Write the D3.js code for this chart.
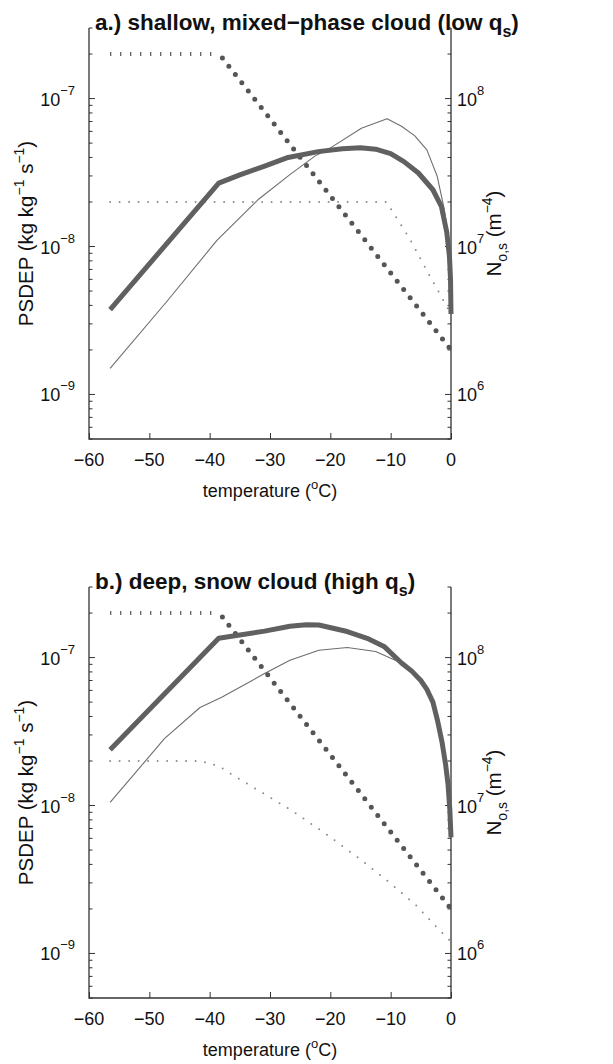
<!DOCTYPE html>
<html>
<head>
<meta charset="utf-8">
<script src="https://cdn.jsdelivr.net/npm/d3@7"></script>
<style>
html,body{margin:0;padding:0;background:#fff;}
svg text{font-family:"Liberation Sans",Arial,Helvetica,sans-serif;fill:#111;}
</style>
</head>
<body>
<svg id="chart" width="613" height="1064"></svg>
<script>
// ---------- data ----------
const tempTicks = [-60, -50, -40, -30, -20, -10, 0];
const psdepTicks = [1e-9, 1e-8, 1e-7];
const psdepTickExp = ["−9", "−8", "−7"];
const nosTicks = [1e6, 1e7, 1e8];
const nosTickExp = ["6", "7", "8"];
const psdepDomain = [5e-10, 3e-7];
const nosDomain = [5e5, 3e8];

// panel a: shallow, mixed-phase cloud
const thickA = [[-56.5,3.75e-9],[-38.5,2.68e-8],[-35,3.05e-8],[-31,3.48e-8],[-27,4.0e-8],[-22,4.38e-8],[-18,4.58e-8],[-15,4.65e-8],[-12.5,4.55e-8],[-10,4.25e-8],[-7.8,3.75e-8],[-5.4,3.14e-8],[-3,2.42e-8],[-1.6,1.87e-8],[-0.7,1.25e-8],[-0.25,8.5e-9],[-0.08,6e-9],[0,3.5e-9]];
const thinA = [[-56.5,1.5e-9],[-47,4.3e-9],[-38.8,1.1e-8],[-32,2.07e-8],[-26.7,3.06e-8],[-22.5,4.1e-8],[-20.5,4.5e-8],[-14.85,6.3e-8],[-10.6,7.3e-8],[-8.2,6.5e-8],[-6,5.6e-8],[-4,4.5e-8],[-2.3,3.0e-8],[-1.13,1.8e-8],[-0.28,1.05e-8],[-0.05,6e-9],[0,3.6e-9]];
const bigDotsA = [[-56.5,2e8],[-38.4,2e8],[0,2e6]];
const smallDotsA = [[-56.5,2e7],[-10.7,2e7],[-6.9,1.14e7],[-3.5,6.3e6],[0,3.5e6]];

// panel b: deep, snow cloud
const thickB = [[-56.5,2.38e-8],[-38.5,1.35e-7],[-30.9,1.51e-7],[-26.7,1.63e-7],[-24,1.67e-7],[-21.9,1.66e-7],[-17.2,1.5e-7],[-13.9,1.35e-7],[-11.1,1.19e-7],[-8.2,9.2e-8],[-6.5,8.1e-8],[-5,7.0e-8],[-4,6.1e-8],[-3,5.0e-8],[-2.2,3.7e-8],[-1.5,2.7e-8],[-0.9,1.9e-8],[-0.5,1.4e-8],[-0.2,9.5e-9],[0,6.1e-9]];
const thinB = [[-56.5,1.05e-8],[-47.5,2.83e-8],[-41.6,4.6e-8],[-38,5.4e-8],[-30.9,7.8e-8],[-26.7,9.6e-8],[-21.9,1.12e-7],[-17.2,1.17e-7],[-12.5,1.1e-7],[-8.2,9.2e-8],[-6.5,8.1e-8],[-5,7.0e-8],[-4,6.1e-8],[-3,5.0e-8],[-2.2,3.7e-8],[-1.5,2.7e-8],[-0.9,1.9e-8],[-0.5,1.4e-8],[-0.2,9.5e-9],[0,6.1e-9]];
const bigDotsB = [[-56.5,2e8],[-38.4,2e8],[0,2e6]];
const smallDotsB = [[-56.5,2e7],[-41.6,2e7],[-38.5,1.85e7],[-36.1,1.6e7],[-31,1.2e7],[-26.4,9.25e6],[-20.8,6.45e6],[-15.1,4.35e6],[-9.9,2.95e6],[-5.7,2.1e6],[-2.7,1.55e6],[0,1.2e6]];

// ---------- drawing ----------
const svg = d3.select("#chart");
const X0 = 89, X1 = 451;
const x = d3.scaleLinear().domain([-60, 0]).range([X0, X1]);
const axisColor = "#333";

function addSup(text, base, sup, supSize, rise) {
  text.append("tspan").text(base);
  text.append("tspan").attr("dy", -rise).attr("font-size", supSize).text(sup);
}

function drawPanel(top, bottom, titleMain, titleEnd, thick, thin, bigDots, smallDots) {
  const g = svg.append("g");
  const yL = d3.scaleLog().domain(psdepDomain).range([bottom, top]);
  const yR = d3.scaleLog().domain(nosDomain).range([bottom, top]);

  // y ticks (inward, with minor ticks)
  const minorL = yL.ticks();
  g.append("g").selectAll("line").data(minorL).join("line")
    .attr("x1", X0).attr("x2", d => X0 + (psdepTicks.includes(d) ? 6 : 3.5))
    .attr("y1", d => yL(d)).attr("y2", d => yL(d))
    .attr("stroke", axisColor).attr("stroke-width", 1);
  const minorR = yR.ticks();
  g.append("g").selectAll("line").data(minorR).join("line")
    .attr("x1", X1).attr("x2", d => X1 - (nosTicks.includes(d) ? 6 : 3.5))
    .attr("y1", d => yR(d)).attr("y2", d => yR(d))
    .attr("stroke", axisColor).attr("stroke-width", 1);

  const bottomAxis = d3.axisBottom(x).tickValues(tempTicks).tickFormat("").tickSizeInner(-6).tickSizeOuter(0);
  const gb = g.append("g").attr("transform", `translate(0,${bottom})`).call(bottomAxis);
  gb.select(".domain").remove();
  gb.selectAll(".tick line").attr("stroke", axisColor);

  // axis lines (left, bottom, right)
  g.append("path")
    .attr("d", `M${X0},${top}V${bottom}H${X1}V${top}`)
    .attr("fill", "none").attr("stroke", axisColor).attr("stroke-width", 1.3);

  // tick labels
  psdepTicks.forEach((v, i) => {
    const t = g.append("text").attr("x", 75).attr("y", yL(v) + 7)
      .attr("text-anchor", "end").attr("font-size", 18);
    addSup(t, "10", psdepTickExp[i], 13, 11);
  });
  nosTicks.forEach((v, i) => {
    const t = g.append("text").attr("x", 457).attr("y", yR(v) + 7)
      .attr("text-anchor", "start").attr("font-size", 18);
    addSup(t, "10", nosTickExp[i], 13, 11);
  });
  tempTicks.forEach(v => {
    g.append("text").attr("x", x(v)).attr("y", bottom + 27)
      .attr("text-anchor", "middle").attr("font-size", 18)
      .text(v < 0 ? "−" + Math.abs(v) : String(v));
  });

  // x label
  const xl = g.append("text").attr("x", (X0 + X1) / 2).attr("y", bottom + 58)
    .attr("text-anchor", "middle").attr("font-size", 18);
  xl.append("tspan").text("temperature (");
  xl.append("tspan").attr("dy", -8).attr("font-size", 13).text("o");
  xl.append("tspan").attr("dy", 8).text("C)");

  // left y label
  const cy = (top + bottom) / 2;
  const ly = g.append("text").attr("transform", `translate(33,${cy}) rotate(-90)`)
    .attr("text-anchor", "middle").attr("font-size", 20.5);
  ly.append("tspan").text("PSDEP (kg kg");
  ly.append("tspan").attr("dy", -9).attr("font-size", 14).text("−1");
  ly.append("tspan").attr("dy", 9).text(" s");
  ly.append("tspan").attr("dy", -9).attr("font-size", 14).text("−1");
  ly.append("tspan").attr("dy", 9).text(")");

  // right y label
  const ry = g.append("text").attr("transform", `translate(501,${cy}) rotate(-90)`)
    .attr("text-anchor", "middle").attr("font-size", 20.5);
  ry.append("tspan").text("N");
  ry.append("tspan").attr("dy", 6).attr("font-size", 14).text("o,s");
  ry.append("tspan").attr("dy", -6).text(" (m");
  ry.append("tspan").attr("dy", -9).attr("font-size", 14).text("−4");
  ry.append("tspan").attr("dy", 9).text(")");

  // title
  const tt = g.append("text").attr("x", 95).attr("y", top + 2)
    .attr("font-size", 22.5).attr("font-weight", "bold");
  tt.append("tspan").text(titleMain);
  tt.append("tspan").attr("dy", 7).attr("font-size", 16).text("s");
  tt.append("tspan").attr("dy", -7).text(titleEnd);

  // series
  const lineL = d3.line().x(d => x(d[0])).y(d => yL(d[1]));
  const lineR = d3.line().x(d => x(d[0])).y(d => yR(d[1]));

  g.append("path").attr("d", lineL(thin)).attr("fill", "none")
    .attr("stroke", "#6e6e6e").attr("stroke-width", 1.1).attr("stroke-linejoin", "round");
  g.append("path").attr("d", lineR(smallDots)).attr("fill", "none")
    .attr("stroke", "#8c8c8c").attr("stroke-width", 2).attr("stroke-linecap", "round")
    .attr("stroke-dasharray", "0,9.5");
  // big dots: flat part rendered as vertical ticks, sloped part as dots
  g.append("path").attr("d", lineR(bigDots.slice(0, 2))).attr("fill", "none")
    .attr("stroke", "#555").attr("stroke-width", 4).attr("stroke-linecap", "butt")
    .attr("stroke-dasharray", "1.2,8.8");
  g.append("path").attr("d", lineR(bigDots.slice(1))).attr("fill", "none")
    .attr("stroke", "#555").attr("stroke-width", 5).attr("stroke-linecap", "round")
    .attr("stroke-dasharray", "0,10.5").attr("stroke-dashoffset", -5);
  g.append("path").attr("d", lineL(thick)).attr("fill", "none")
    .attr("stroke", "#606060").attr("stroke-width", 5).attr("stroke-linejoin", "round");
}

drawPanel(28, 439, "a.) shallow, mixed−phase cloud (low q", ")", thickA, thinA, bigDotsA, smallDotsA);
drawPanel(587, 998, "b.) deep, snow cloud (high q", ")", thickB, thinB, bigDotsB, smallDotsB);
</script>
</body>
</html>
